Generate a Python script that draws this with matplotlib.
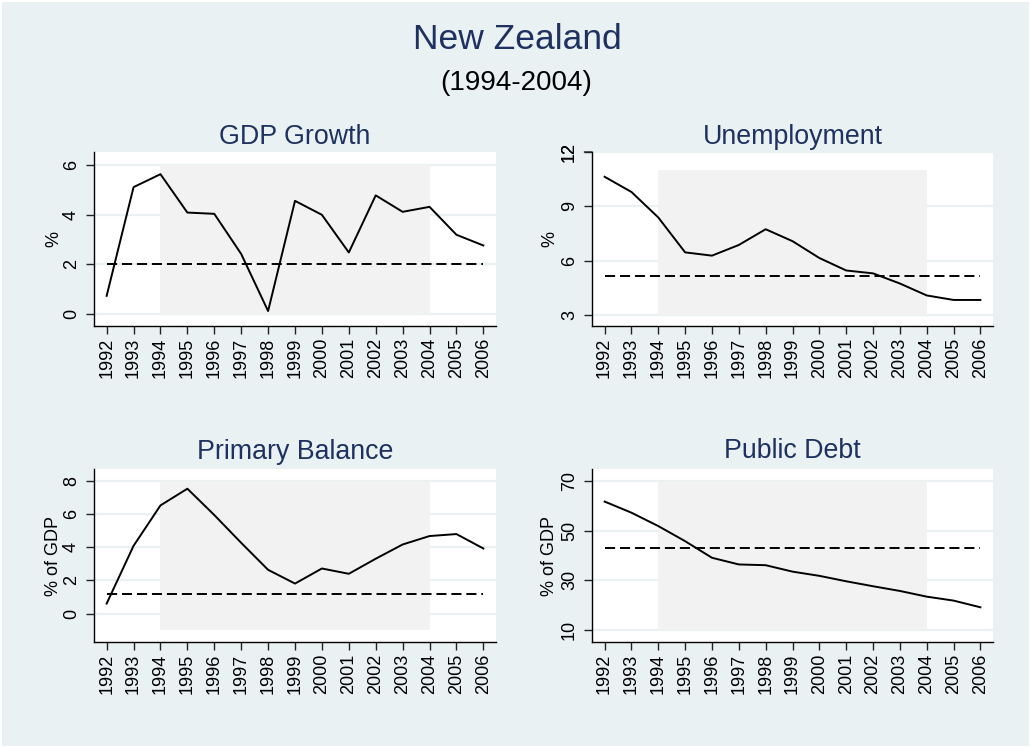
import matplotlib.pyplot as plt
import matplotlib.transforms as mtransforms
from matplotlib.patches import Rectangle

plt.rcParams['font.family'] = ['Liberation Sans', 'DejaVu Sans']

years = list(range(1992, 2007))
period_start, period_end = 1994, 2004

gdp_growth = [0.74, 5.10, 5.62, 4.08, 4.03, 2.42, 0.13, 4.55, 3.99, 2.48, 4.77, 4.11, 4.31, 3.19, 2.76]
unemployment = [10.63, 9.79, 8.38, 6.45, 6.27, 6.86, 7.73, 7.07, 6.14, 5.45, 5.29, 4.73, 4.07, 3.82, 3.82]
primary_balance = [0.60, 4.09, 6.53, 7.54, 5.95, 4.27, 2.64, 1.81, 2.72, 2.40, 3.31, 4.17, 4.68, 4.80, 3.93]
public_debt = [61.7, 57.2, 51.8, 45.7, 39.0, 36.3, 36.0, 33.4, 31.7, 29.5, 27.5, 25.6, 23.3, 21.7, 19.0]

# reference levels drawn as dashed lines
gdp_ref = 2.0
unemp_ref = 5.16
pb_ref = 1.18
debt_ref = 42.9

gdp_ticks = [0, 2, 4, 6]
unemp_ticks = [3, 6, 9, 12]
pb_ticks = [0, 2, 4, 6, 8]
debt_ticks = [10, 30, 50, 70]

BG = '#e9f1f3'
SHADE = '#f2f2f2'
NAVY = '#1e3160'
W, H = 1030, 747

fig = plt.figure(figsize=(W / 100, H / 100), dpi=100)
fig.patch.set_facecolor('white')
fig.add_artist(Rectangle((1.5 / W, 1.5 / H), 1 - 3 / W, 1 - 3 / H,
                         transform=fig.transFigure, facecolor=BG,
                         edgecolor='none', zorder=-10))

fig.text(0.502, 1 - 49 / H, 'New Zealand', ha='center', va='baseline',
         fontsize=25.5, color=NAVY)
fig.text(0.501, 1 - 90 / H, '(1994-2004)', ha='center', va='baseline',
         fontsize=20, color='black')

# (title, ylabel, values, ref, ticks, ylim, shade, box in px: left, top, right, bottom, title pad, ylabel x)
panels = [
    ('GDP Growth', '%', gdp_growth, gdp_ref, gdp_ticks, (-0.47, 6.51), (0, 6),
     (94, 152, 496, 326), 5.8, -0.100),
    ('Unemployment', '%', unemployment, unemp_ref, unemp_ticks, (2.38, 11.61), (3, 11),
     (592, 152, 993, 326), 6.0, -0.105),
    ('Primary Balance', '% of GDP', primary_balance, pb_ref, pb_ticks, (-1.72, 8.73), (-1, 8),
     (94, 469, 496, 642), 7.0, -0.100),
    ('Public Debt', '% of GDP', public_debt, debt_ref, debt_ticks, (4.98, 74.85), (10, 70),
     (592, 469, 993, 642), 7.6, -0.105),
]

tick_len, tick_pad = 5.5, 4.5

for title, ylabel, values, ref, ticks, ylim, shade, box, tpad, ylx in panels:
    l, t, r, b = box
    ax = fig.add_axes([l / W, 1 - b / H, (r - l) / W, (b - t) / H])
    ax.set_facecolor('white')
    ax.set_axisbelow(True)
    ax.grid(axis='y', color=BG, lw=1.6)
    ax.grid(axis='x', visible=False)

    ax.fill_between([period_start, period_end], shade[0], shade[1],
                    color=SHADE, lw=0, zorder=1)
    ax.plot([years[0], years[-1]], [ref, ref], color='black', lw=1.4,
            dashes=(5.2, 2.5), zorder=2)
    ax.plot(years, values, color='black', lw=1.4, zorder=3)

    ax.set_xlim(1991.53, 2006.47)
    ax.set_ylim(*ylim)
    ax.set_xticks(years)
    ax.set_xticklabels([str(y) for y in years], rotation=90)
    ax.set_yticks(ticks)
    ax.set_yticklabels([str(v) for v in ticks], rotation=90, va='center')
    ax.tick_params(axis='both', length=tick_len, width=1, color='#222222',
                   labelsize=13)
    ax.tick_params(axis='y', pad=tick_pad)
    ax.tick_params(axis='x', pad=3)

    for side in ('top', 'right'):
        ax.spines[side].set_visible(False)
    for side in ('left', 'bottom'):
        ax.spines[side].set_linewidth(1.0)
        ax.spines[side].set_color('black')

    # ticks beyond the plot region are still labelled
    trans = ax.get_yaxis_transform()
    for v in ticks:
        if v > ylim[1]:
            ax.annotate('', xy=(0, v), xycoords=trans,
                        xytext=(-tick_len, 0), textcoords='offset points',
                        arrowprops=dict(arrowstyle='-', color='#222222', lw=1,
                                        shrinkA=0, shrinkB=0),
                        annotation_clip=False)
            lab_tr = mtransforms.offset_copy(trans, fig, x=-(tick_len + tick_pad),
                                             units='points')
            ax.text(0, v, str(v), transform=lab_tr, rotation=90, ha='right',
                    va='center', fontsize=13, clip_on=False)

    ax.set_title(title, fontsize=19.3, color=NAVY, pad=tpad)
    ax.set_ylabel(ylabel, fontsize=13, va='center')
    ax.yaxis.set_label_coords(ylx, 0.5)

fig.savefig('out.png', dpi=100, facecolor=fig.get_facecolor())
